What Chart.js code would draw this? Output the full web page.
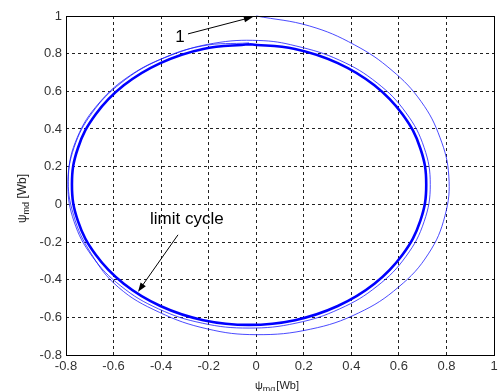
<!DOCTYPE html>
<html>
<head>
<meta charset="utf-8">
<script src="https://cdn.jsdelivr.net/npm/chart.js@4.4.1/dist/chart.umd.min.js"></script>
<style>
  html, body { margin: 0; padding: 0; background: #fff; }
  #wrap { width: 502px; height: 391px; }
</style>
</head>
<body>
<div id="wrap"><canvas id="c"></canvas></div>
<script>
// --- data ---
const axisTicks = [-0.8, -0.6, -0.4, -0.2, 0, 0.2, 0.4, 0.6, 0.8, 1];

// transient: starts at point "1" (0, 1), runs clockwise and settles on the cycle
const transientX = [0.00, 0.224, 0.413, 0.571, 0.694, 0.773, 0.81, 0.794, 0.724, 0.599, 0.43, 0.228, 0.00, -0.207, -0.408, -0.58, -0.696, -0.768, -0.79, -0.753, -0.661, -0.527, -0.36, -0.179, 0.01,
  0.167, 0.351, 0.509, 0.630, 0.706, 0.732, 0.706, 0.630, 0.509, 0.351, 0.167, -0.03, -0.227, -0.411, -0.569, -0.690, -0.766, -0.792, -0.766, -0.690, -0.569, -0.411, -0.227, -0.03];
const transientY = [1.00, 0.947, 0.847, 0.711, 0.545, 0.354, 0.15, -0.06, -0.263, -0.439, -0.577, -0.663, -0.692, -0.661, -0.573, -0.44, -0.258, -0.058, 0.15, 0.354, 0.538, 0.687, 0.791, 0.855, 0.87,
  0.841, 0.765, 0.644, 0.486, 0.302, 0.105, -0.092, -0.276, -0.434, -0.555, -0.631, -0.657, -0.631, -0.555, -0.434, -0.276, -0.092, 0.105, 0.302, 0.486, 0.644, 0.765, 0.841, 0.857];

// limit cycle
const cycleX = [-0.03, 0.163, 0.343, 0.497, 0.615, 0.690, 0.715, 0.690, 0.615, 0.497, 0.343, 0.163, -0.03, -0.223, -0.403, -0.557, -0.675, -0.750, -0.775, -0.750, -0.675, -0.557, -0.403, -0.223, -0.03];
const cycleY = [0.85, 0.825, 0.750, 0.632, 0.478, 0.298, 0.105, -0.088, -0.268, -0.422, -0.540, -0.615, -0.64, -0.615, -0.540, -0.422, -0.268, -0.088, 0.105, 0.298, 0.478, 0.632, 0.750, 0.825, 0.85];

// annotations in data units: [text, text x, text y, arrow from x, y, arrow to x, y]
const labelOne = ["1", -0.321, 0.889, -0.287, 0.905, -0.014, 0.995];
const labelCycle = ["limit cycle", -0.292, -0.082, -0.329, -0.162, -0.497, -0.464];

const FONT = "'Liberation Sans', Arial, sans-serif";

function pts(xs, ys) {
  return xs.map((x, i) => ({ x: x, y: ys[i] }));
}

function fmt(v) {
  return String(Number(v.toFixed(1)));
}

function arrow(ctx, x1, y1, x2, y2) {
  const a = Math.atan2(y2 - y1, x2 - x1);
  const len = 9, w = 3.2;
  ctx.beginPath();
  ctx.moveTo(x1, y1);
  ctx.lineTo(x2 - Math.cos(a) * len * 0.8, y2 - Math.sin(a) * len * 0.8);
  ctx.stroke();
  ctx.beginPath();
  ctx.moveTo(x2, y2);
  ctx.lineTo(x2 - Math.cos(a) * len - Math.sin(a) * w, y2 - Math.sin(a) * len + Math.cos(a) * w);
  ctx.lineTo(x2 - Math.cos(a) * len + Math.sin(a) * w, y2 - Math.sin(a) * len - Math.cos(a) * w);
  ctx.closePath();
  ctx.fill();
}

const extras = {
  id: "extras",
  afterDraw(chart) {
    const ctx = chart.ctx;
    const xs = chart.scales.x, ys = chart.scales.y;
    const a = chart.chartArea;
    ctx.save();

    // box around the axes
    ctx.strokeStyle = "#000";
    ctx.lineWidth = 1;
    ctx.strokeRect(Math.round(a.left) + 0.5, Math.round(a.top) + 0.5,
      Math.round(a.right - a.left), Math.round(a.bottom - a.top));

    // annotations
    ctx.fillStyle = "#000";
    ctx.strokeStyle = "#000";
    ctx.lineWidth = 1;
    ctx.font = "17px " + FONT;
    ctx.textAlign = "center";
    ctx.textBaseline = "middle";
    [labelOne, labelCycle].forEach(l => {
      ctx.fillText(l[0], xs.getPixelForValue(l[1]), ys.getPixelForValue(l[2]));
      arrow(ctx, xs.getPixelForValue(l[3]), ys.getPixelForValue(l[4]),
        xs.getPixelForValue(l[5]), ys.getPixelForValue(l[6]));
    });

    // axis titles with subscripts
    ctx.fillStyle = "#222";
    ctx.textAlign = "left";
    ctx.textBaseline = "alphabetic";

    // x title
    let x0 = 255, base = 389;
    ctx.font = "11px " + FONT;
    ctx.fillText("\u03c8", x0, base);
    x0 += ctx.measureText("\u03c8").width;
    ctx.font = "9px " + FONT;
    ctx.fillText("mq", x0, base + 3);
    x0 += ctx.measureText("mq").width;
    ctx.font = "11px " + FONT;
    ctx.fillText("[Wb]", x0 + 1, base);

    // y title, rotated
    ctx.translate(26, 223);
    ctx.rotate(-Math.PI / 2);
    let t = 0;
    ctx.font = "12px " + FONT;
    ctx.fillText("\u03c8", t, 0);
    t += ctx.measureText("\u03c8").width;
    ctx.font = "9px " + FONT;
    ctx.fillText("md", t, 3);
    t += ctx.measureText("md").width;
    ctx.font = "12px " + FONT;
    ctx.fillText(" [Wb]", t, 0);

    ctx.restore();
  }
};

const axisCommon = {
  type: "linear",
  min: -0.8,
  max: 1,
  afterBuildTicks: s => { s.ticks = axisTicks.map(v => ({ value: v })); },
  grid: { color: "#222", lineWidth: 1, drawTicks: false },
  border: { display: false, dash: [3, 3] },
  ticks: {
    color: "#333",
    font: { family: FONT, size: 13 },
    callback: v => fmt(v)
  }
};

new Chart(document.getElementById("c"), {
  type: "scatter",
  data: {
    datasets: [
      {
        label: "transient",
        data: pts(transientX, transientY),
        showLine: true,
        borderColor: "rgba(30,30,255,0.8)",
        borderWidth: 1,
        pointRadius: 0,
        tension: 0.4,
        clip: 6
      },
      {
        label: "limit cycle",
        data: pts(cycleX, cycleY),
        showLine: true,
        borderColor: "#0000ff",
        borderWidth: 2.6,
        pointRadius: 0,
        tension: 0.4,
        clip: 6
      }
    ]
  },
  options: {
    responsive: true,
    maintainAspectRatio: false,
    animation: false,
    layout: { padding: { left: 0, right: 8, top: 16, bottom: 0 } },
    plugins: {
      legend: { display: false },
      tooltip: { enabled: false }
    },
    scales: {
      x: Object.assign({}, axisCommon, {
        position: "bottom",
        ticks: Object.assign({}, axisCommon.ticks, { padding: 4, maxRotation: 0 }),
        afterFit: s => { s.height = 36; }
      }),
      y: Object.assign({}, axisCommon, {
        position: "left",
        ticks: Object.assign({}, axisCommon.ticks, { padding: 4 }),
        afterFit: s => { s.width = 66; }
      })
    }
  },
  plugins: [extras]
});
</script>
</body>
</html>
